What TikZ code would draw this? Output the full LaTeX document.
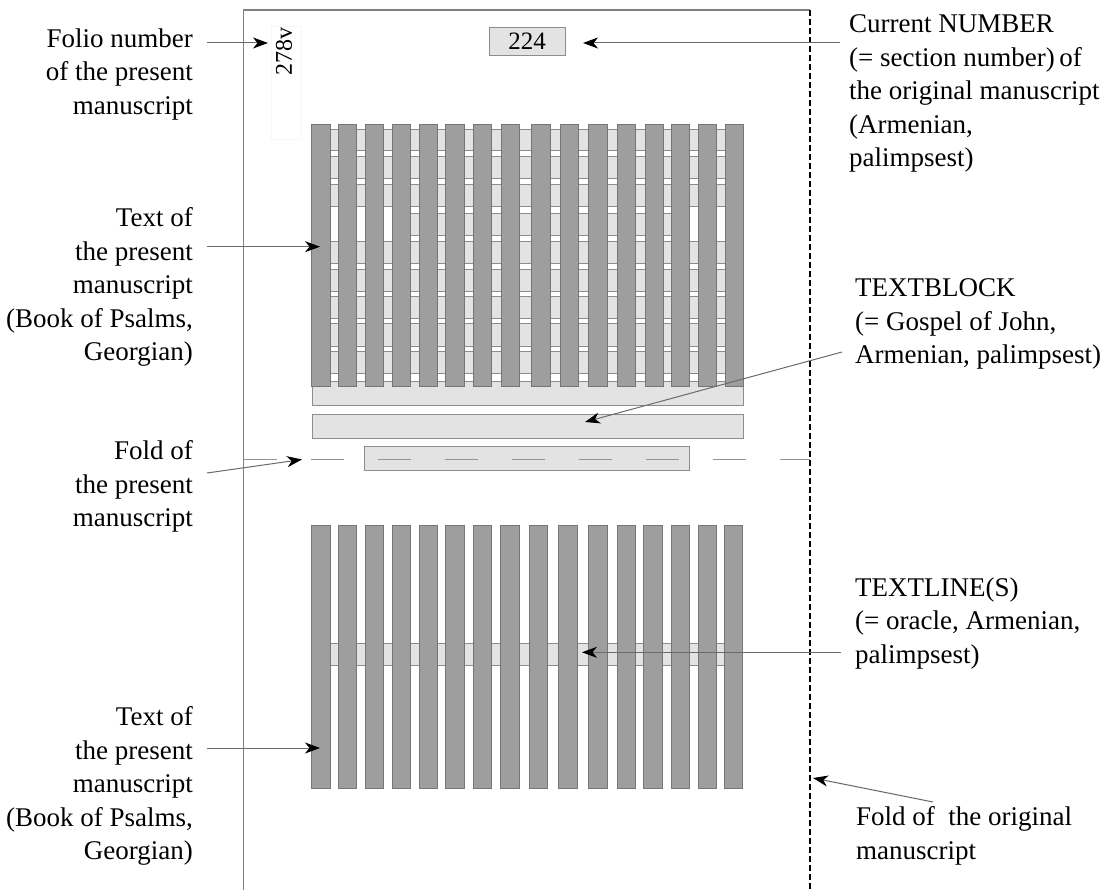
\documentclass[tikz,border=0pt]{standalone}
\usepackage{fontspec}
\setmainfont{Liberation Serif}
\usetikzlibrary{arrows.meta}
\definecolor{barfill}{HTML}{9E9E9E}
\definecolor{barline}{HTML}{767676}
\definecolor{stripfill}{HTML}{E3E3E3}
\definecolor{stripline}{HTML}{8C8C8C}
\definecolor{framecol}{HTML}{808080}
\begin{document}
\begin{tikzpicture}[x=1pt,y=-1pt,
  lbl/.style={inner sep=0pt, font=\fontsize{27}{33.5}\selectfont},
  lblL/.style={lbl, align=right, anchor=north east},
  lblR/.style={lbl, align=left, anchor=north west},
  barbox/.style={fill=barfill, draw=barline, line width=0.8pt},
  stripbox/.style={fill=stripfill, draw=stripline, line width=0.8pt},
  pointer/.style={draw=black!58, line width=1pt, -{Stealth[length=15pt,width=11pt,inset=4.5pt,black]}},
  pageline/.style={draw=framecol, line width=1.1pt}
]
\useasboundingbox (0,0) rectangle (1112,890);
\fill[white] (0,0) rectangle (1112,890);

% page frame
\draw[pageline] (243.5,890) -- (243.5,10) -- (810,10);
\draw[black, line width=2pt, dash pattern=on 6pt off 3pt] (810,10) -- (810,890);

% faint box round folio number
\draw[black!3, line width=0.6pt] (271,26) rectangle (301,139);
\node[rotate=90, inner sep=0pt, font=\fontsize{24}{24}\selectfont] (folio) at (284,52) {278v};

% number box
\node[stripbox, minimum width=76pt, minimum height=28pt, inner sep=0pt,
      font=\fontsize{25}{25}\selectfont] (num) at (527,41) {224\hspace{14pt}};

% upper block: text rows behind columns
\foreach \a/\b in {129/150.7,156.7/178.3,184/206.7,241.7/263.3,269.3/291,296.7/318.3,323.3/346,351.7/373.3}
  \draw[stripbox] (312,\a) rectangle (743,\b);
\draw[stripbox] (392,213.3) rectangle (689,235);
\draw[stripbox] (312,381) rectangle (743,405.5);
\foreach \x in {311.7,338.3,365,392,419,445.7,473.3,501.3,531.7,560,588.7,617,645.3,671.3,698.3,725}
  \draw[barbox] (\x,124) rectangle ++(18.3,262.7);
\node[stripbox, minimum width=431pt, minimum height=24pt, inner sep=0pt] (textblock) at (527.5,426.2) {};

% fold of the present manuscript
\node[stripbox, minimum width=325.5pt, minimum height=24pt, inner sep=0pt] (foldbox) at (526.8,458) {};
\draw[black!42, line width=1.3pt, dash pattern=on 33pt off 34pt] (243.5,459.5) -- (810,459.5);

% lower block
\draw[stripbox] (330,643.3) rectangle (725,665);
\foreach \x in {311.7,338.3,365,392,419,445.7,473,500.7,529,558.7,588.7,617,643.7,671.3,698.3,724.3}
  \draw[barbox] (\x,525.7) rectangle ++(18.3,262.3);

% labels left
\node[lblL] (lfolio) at (193,28.5) {Folio number\\of the present\\manuscript};
\node[lblL] (ltext1) at (193,207.5) {Text of\\the present\\manuscript\\(Book of Psalms,\\Georgian)};
\node[lblL] (lfold) at (193,440.5) {Fold of\\the present\\manuscript};
\node[lblL] (ltext2) at (193,706.5) {Text of\\the present\\manuscript\\(Book of Psalms,\\Georgian)};

% labels right
\node[lblR] (lnum) at (849,14.5) {Current NUMBER\\(= section number)\,of\\the original manuscript\\(Armenian,\\palimpsest)};
\node[lblR] (ltb) at (855,278.5) {TEXTBLOCK\\(= Gospel of John,\\Armenian, palimpsest)};
\node[lblR] (ltl) at (855,577.5) {TEXTLINE(S)\\(= oracle, Armenian,\\palimpsest)};
\node[lblR] (lfo) at (856,806.5) {Fold of\ \ the original\\manuscript};

% connector end points
\coordinate (sfolio) at (207,43);   \coordinate (efolio) at (268,43);
\coordinate (snum) at (840,43);     \coordinate (enum) at (583,43);
\coordinate (stext1) at (207,246.7);\coordinate (etext1) at (320,246.7);
\coordinate (stb) at (842,352);     \coordinate (etb) at (585,422);
\coordinate (sfold) at (207,473);   \coordinate (efold) at (302,459.5);
\coordinate (stl) at (841,652.3);   \coordinate (etl) at (582,652.3);
\coordinate (stext2) at (207,748);  \coordinate (etext2) at (320,748);
\coordinate (sfo) at (933,802);     \coordinate (efo) at (813,778);

\draw[pointer] (sfolio) -- (efolio);
\draw[pointer] (snum) -- (enum);
\draw[pointer] (stext1) -- (etext1);
\draw[pointer] (stb) -- (etb);
\draw[pointer] (sfold) -- (efold);
\draw[pointer] (stl) -- (etl);
\draw[pointer] (stext2) -- (etext2);
\draw[pointer] (sfo) -- (efo);
\end{tikzpicture}
\end{document}
